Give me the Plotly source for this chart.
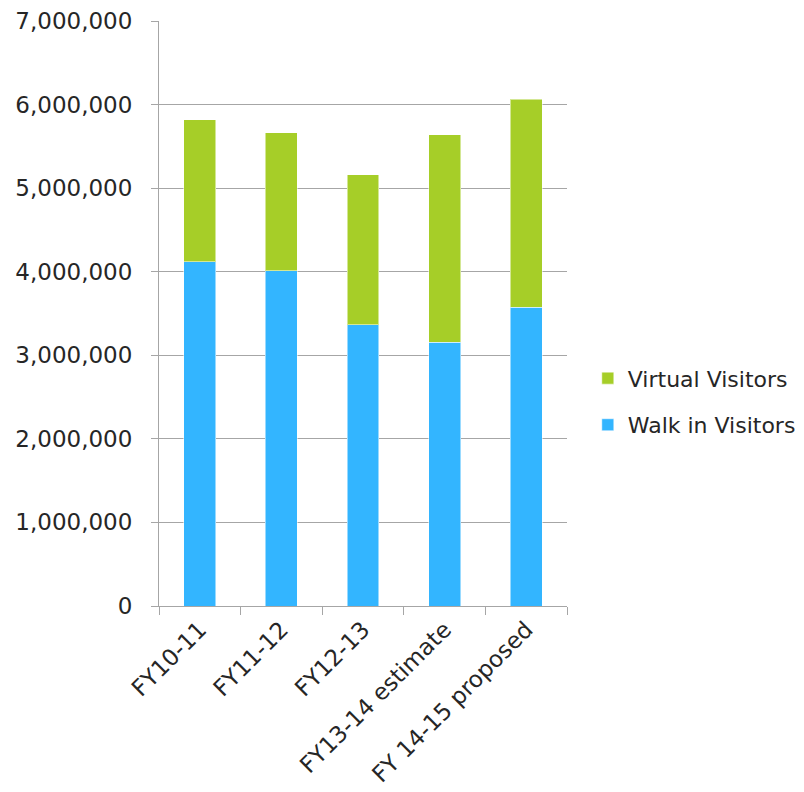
import plotly.graph_objects as go

categories = ["FY10-11", "FY11-12", "FY12-13", "FY13-14 estimate", "FY 14-15 proposed"]
walk_in = [4122000, 4014000, 3368000, 3157000, 3572000]
virtual = [1699000, 1651000, 1795000, 2479000, 2491000]
y_ticks = [0, 1000000, 2000000, 3000000, 4000000, 5000000, 6000000, 7000000]

FONT = "DejaVu Sans"
TXT = "#262626"
GRID = "#A6A6A6"

fig = go.Figure()
fig.add_trace(go.Bar(
    x=categories, y=walk_in, name="Walk in Visitors",
    marker=dict(color="#33B5FF", line=dict(color="rgba(255,255,255,0.5)", width=1)),
    width=0.39, legendgroup="walk", legendrank=2,
))
fig.add_trace(go.Bar(
    x=categories, y=virtual, name="Virtual Visitors",
    marker=dict(color="#A6CE28", line=dict(color="rgba(255,255,255,0.5)", width=1)),
    width=0.39, legendgroup="virtual", legendrank=1,
))

fig.update_layout(
    barmode="stack",
    width=796, height=784,
    margin=dict(l=151, r=237, t=13, b=186, autoexpand=False),
    paper_bgcolor="white", plot_bgcolor="white",
    font=dict(family=FONT, size=22, color=TXT),
    showlegend=True,
    legend=dict(
        x=1.051, y=0.349, xanchor="left", yanchor="middle",
        traceorder="grouped", tracegroupgap=15,
        font=dict(family=FONT, size=22, color=TXT),
        itemwidth=30,
    ),
    xaxis=dict(
        automargin=False,
        showgrid=False, showline=True, linecolor=GRID, linewidth=1,
        ticks="outside", tickson="boundaries", ticklen=8, tickcolor=GRID,
        tickangle=-45, tickfont=dict(family=FONT, size=23, color=TXT),
    ),
    yaxis=dict(
        automargin=False,
        range=[0, 7000000], tickvals=y_ticks, tickformat=",",
        showgrid=True, gridcolor=GRID, gridwidth=1,
        showline=True, linecolor=GRID, linewidth=1,
        ticks="outside", ticklen=7, tickcolor=GRID,
        ticklabelstandoff=14,
        zeroline=False,
        tickfont=dict(family=FONT, size=23, color=TXT),
    ),
)

fig.write_html("out.html")
